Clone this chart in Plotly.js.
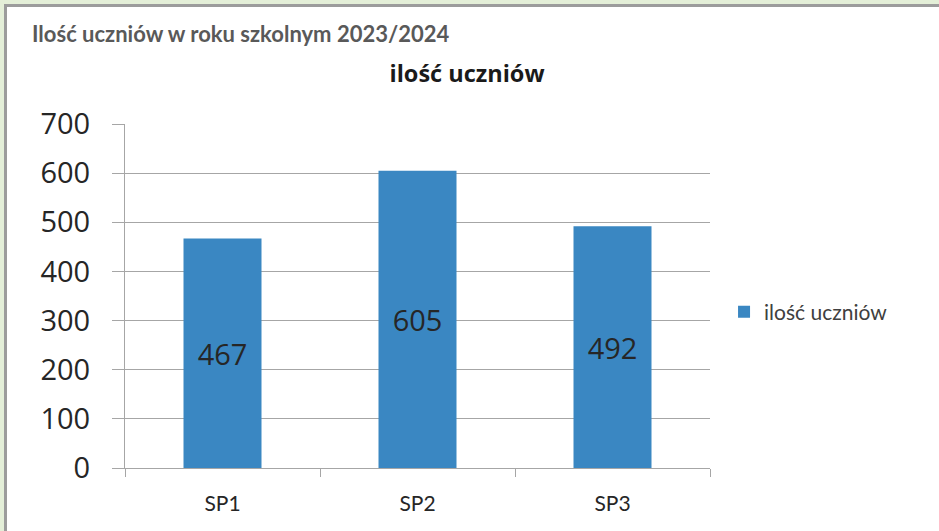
<!DOCTYPE html>
<html>
<head>
<meta charset="utf-8">
<script src="https://cdn.plot.ly/plotly-3.0.1.min.js"></script>
<style>
  html, body { margin: 0; padding: 0; background: #e4efd8; width: 939px; height: 531px; overflow: hidden; }
  #frame { position: absolute; left: 4px; top: 4px; width: 932px; height: 524px; border-left: 3px solid #9c9c9c; border-top: 3px solid #9c9c9c; background: #ffffff; }
  #chart { position: absolute; left: 0; top: 0; width: 932px; height: 524px; }
</style>
</head>
<body>
<div id="frame"><div id="chart"></div></div>
<script>
const categories = ["SP1", "SP2", "SP3"];
const students = [467, 605, 492];
const seriesName = "ilość uczniów";
const chartTitle = "ilość uczniów";
const headerTitle = "Ilość uczniów w roku szkolnym 2023/2024";
const yTicks = [0, 100, 200, 300, 400, 500, 600, 700];

const trace = {
  type: "bar",
  x: categories,
  y: students,
  name: seriesName,
  text: students.map(String),
  textposition: "inside",
  insidetextanchor: "middle",
  textangle: 0,
  textfont: { family: "Open Sans", size: 29, color: "#262626" },
  marker: { color: "#3a87c2" },
  showlegend: true,
  hoverinfo: "none"
};

const layout = {
  width: 932, height: 524,
  margin: { l: 118, r: 229, t: 117, b: 63 },
  paper_bgcolor: "#ffffff",
  plot_bgcolor: "#ffffff",
  bargap: 0.6,
  title: {
    text: "<b>" + chartTitle + "</b>",
    font: { family: "Open Sans", size: 23.5, color: "#1a1a1a" },
    x: 0.4936, xanchor: "center", xref: "container",
    y: 0.872, yanchor: "middle", yref: "container"
  },
  xaxis: {
    type: "category",
    showgrid: false,
    showline: true, linecolor: "#a6a6a6", linewidth: 1,
    ticks: "outside", tickson: "boundaries", ticklen: 8, tickcolor: "#a6a6a6",
    tickfont: { family: "Lato", size: 21, color: "#262626" },
    ticklabelstandoff: 17,
    zeroline: false
  },
  yaxis: {
    range: [0, 700],
    tickvals: yTicks,
    showgrid: true, gridcolor: "#a6a6a6", gridwidth: 1,
    showline: true, linecolor: "#a6a6a6", linewidth: 1,
    ticks: "outside", ticklen: 12, tickcolor: "#a6a6a6",
    tickfont: { family: "Open Sans", size: 29, color: "#262626" },
    ticklabelstandoff: 16,
    zeroline: false
  },
  legend: {
    x: 1.024, xanchor: "left",
    y: 0.453, yanchor: "middle",
    font: { family: "Lato", size: 21, color: "#404040" },
    bgcolor: "rgba(0,0,0,0)"
  },
  annotations: [{
    text: "<b>" + headerTitle + "</b>",
    xref: "paper", yref: "paper",
    x: (23 - 118) / 585, xanchor: "left",
    y: (460.5 - 27) / 343.5, yanchor: "middle",
    showarrow: false,
    font: { family: "Lato", size: 22, color: "#595959" }
  }]
};

Plotly.newPlot("chart", [trace], layout, { displayModeBar: false, staticPlot: true });
</script>
</body>
</html>
